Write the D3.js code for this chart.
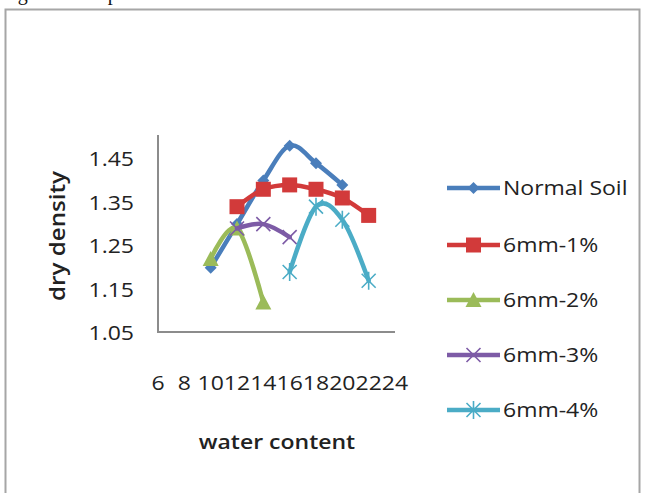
<!DOCTYPE html>
<html>
<head>
<meta charset="utf-8">
<script src="https://cdn.jsdelivr.net/npm/d3@7"></script>
<style>
  html, body { margin: 0; padding: 0; background: #fff; }
  svg { display: block; }
  text { font-family: "Open Sans", "DejaVu Sans", sans-serif; fill: #222; }
</style>
</head>
<body>
<svg id="chart" width="646" height="493"></svg>
<script>
// Compaction test results: dry density against water content
const seriesNames = ["Normal Soil", "6mm-1%", "6mm-2%", "6mm-3%", "6mm-4%"];
const normalSoilX = [10, 12, 14, 16, 18, 20];
const normalSoilY = [1.20, 1.30, 1.40, 1.48, 1.44, 1.39];
const fibre1X = [12, 14, 16, 18, 20, 22];
const fibre1Y = [1.34, 1.38, 1.39, 1.38, 1.36, 1.32];
const fibre2X = [10, 12, 14];
const fibre2Y = [1.22, 1.29, 1.12];
const fibre3X = [12, 14, 16];
const fibre3Y = [1.29, 1.30, 1.27];
const fibre4X = [16, 18, 20, 22];
const fibre4Y = [1.19, 1.34, 1.31, 1.17];
const xTicks = [6, 8, 10, 12, 14, 16, 18, 20, 22, 24];
const yTicks = [1.05, 1.15, 1.25, 1.35, 1.45];

const seriesColors = ["#4a7ebb", "#d23a3a", "#9bbb59", "#7d5ba6", "#4bacc6"];
const seriesMarkers = ["diamond", "square", "triangle", "x", "star"];

// chart text is set slightly wide
const STRETCH = 1.15;

const svg = d3.select("#chart");

// caption line of the surrounding document, running off the top edge
svg.append("text")
  .attr("x", 1).attr("y", -0.5)
  .style("font-family", "'Liberation Serif', serif")
  .style("font-size", "20px")
  .style("fill", "#111")
  .text("Figure 3 compaction curves");

// chart frame
svg.append("rect")
  .attr("x", 5.5).attr("y", 9.5)
  .attr("width", 634).attr("height", 500)
  .attr("fill", "#fff")
  .attr("stroke", "#a6a6a6")
  .attr("stroke-width", 2);

const x = d3.scaleLinear().domain([6, 24]).range([158, 395]);
const y = d3.scaleLinear().domain([1.05, 1.50]).range([333, 137]);

// places a text at (px, py) with the horizontal stretch applied
function label(parent, px, py, str, anchor, size, weight, rotate) {
  const g = parent.append("g")
    .attr("transform", `translate(${px},${py})${rotate ? ` rotate(${rotate})` : ""} scale(${STRETCH},1)`);
  return g.append("text")
    .attr("x", 0).attr("y", 0)
    .attr("dy", "0.36em")
    .attr("text-anchor", anchor)
    .style("font-size", size + "px")
    .style("font-weight", weight || "400")
    .text(str);
}

// axes lines
svg.append("line")
  .attr("x1", x(6)).attr("x2", x(6))
  .attr("y1", y(1.50) - 2).attr("y2", y(1.05))
  .attr("stroke", "#8c8c8c").attr("stroke-width", 2);
svg.append("line")
  .attr("x1", x(6)).attr("x2", x(24))
  .attr("y1", y(1.05) - 1).attr("y2", y(1.05) - 1)
  .attr("stroke", "#8c8c8c").attr("stroke-width", 2);

// y tick labels
const yLabels = svg.append("g");
yTicks.forEach(d => label(yLabels, 134, y(d), d.toFixed(2), "end", 20));

// x tick labels, sitting well below the axis line
const xLabels = svg.append("g");
xTicks.forEach(d => label(xLabels, x(d), 383, String(d), "middle", 20));

// axis titles
label(svg, 57, 236, "dry density", "middle", 21, "600", -90);
label(svg, 277, 442, "water content", "middle", 20, "600");

// marker drawing
function drawMarker(g, type, color) {
  if (type === "diamond") {
    g.append("path").attr("d", "M0,-6L6,0L0,6L-6,0Z").attr("fill", color);
  } else if (type === "square") {
    g.append("rect").attr("x", -7.5).attr("y", -7.5).attr("width", 15).attr("height", 15).attr("fill", color);
  } else if (type === "triangle") {
    g.append("path").attr("d", "M0,-8L8,7L-8,7Z").attr("fill", color);
  } else if (type === "x") {
    g.append("path").attr("d", "M-7,-7L7,7M-7,7L7,-7")
      .attr("stroke", color).attr("stroke-width", 1.6).attr("fill", "none");
  } else if (type === "star") {
    g.append("path").attr("d", "M-7,-7L7,7M-7,7L7,-7M0,-9L0,9")
      .attr("stroke", color).attr("stroke-width", 1.6).attr("fill", "none");
  }
}

const seriesX = [normalSoilX, fibre1X, fibre2X, fibre3X, fibre4X];
const seriesY = [normalSoilY, fibre1Y, fibre2Y, fibre3Y, fibre4Y];

const line = d3.line()
  .x(d => x(d[0]))
  .y(d => y(d[1]))
  .curve(d3.curveCatmullRom.alpha(0));

seriesNames.forEach((name, i) => {
  const pts = seriesX[i].map((v, j) => [v, seriesY[i][j]]);
  const g = svg.append("g");
  g.append("path")
    .datum(pts)
    .attr("d", line)
    .attr("fill", "none")
    .attr("stroke", seriesColors[i])
    .attr("stroke-width", 4.5)
    .attr("stroke-linejoin", "round")
    .attr("stroke-linecap", "round");
  pts.forEach(p => {
    const m = g.append("g").attr("transform", `translate(${x(p[0])},${y(p[1])})`);
    drawMarker(m, seriesMarkers[i], seriesColors[i]);
  });
});

// legend
const legendY = [188, 245, 300, 355, 410];
seriesNames.forEach((name, i) => {
  const g = svg.append("g").attr("transform", `translate(447,${legendY[i]})`);
  g.append("line")
    .attr("x1", 0).attr("x2", 53)
    .attr("stroke", seriesColors[i]).attr("stroke-width", 4.5);
  const m = g.append("g").attr("transform", "translate(26.5,0)");
  drawMarker(m, seriesMarkers[i], seriesColors[i]);
  label(g, 56, 0, name, "start", 20);
});
</script>
</body>
</html>
